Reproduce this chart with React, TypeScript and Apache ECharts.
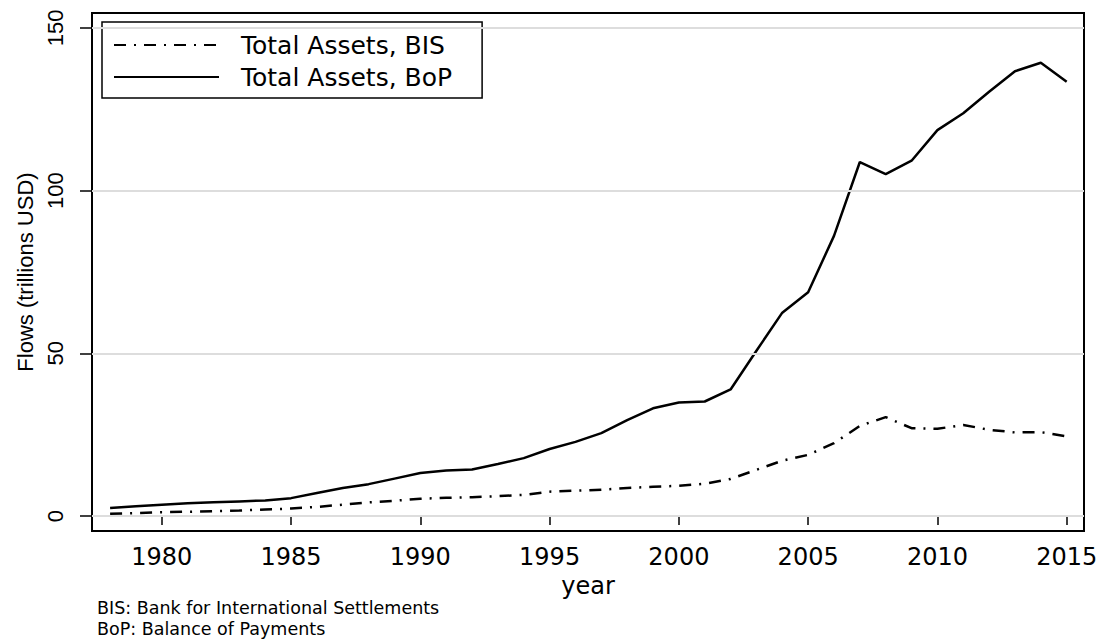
import React, { useEffect, useRef } from "react";
import * as echarts from "echarts";

const years: number[] = [
  1978, 1979, 1980, 1981, 1982, 1983, 1984, 1985, 1986, 1987, 1988, 1989,
  1990, 1991, 1992, 1993, 1994, 1995, 1996, 1997, 1998, 1999, 2000, 2001,
  2002, 2003, 2004, 2005, 2006, 2007, 2008, 2009, 2010, 2011, 2012, 2013,
  2014, 2015,
];

const bisAssets: number[] = [
  0.7, 0.9, 1.2, 1.3, 1.5, 1.7, 2.0, 2.3, 2.8, 3.5, 4.2, 4.7,
  5.3, 5.6, 5.8, 6.1, 6.5, 7.5, 7.8, 8.1, 8.6, 9.0, 9.3, 9.9,
  11.4, 14.2, 17.0, 18.8, 22.4, 27.7, 30.4, 27.0, 26.8, 28.0, 26.5, 25.7,
  25.8, 24.5,
];

const bopAssets: number[] = [
  2.5, 3.0, 3.5, 3.9, 4.2, 4.5, 4.8, 5.5, 7.1, 8.6, 9.8, 11.5,
  13.2, 14.0, 14.3, 16.0, 17.8, 20.6, 22.8, 25.5, 29.5, 33.1, 34.9, 35.2,
  38.9, 50.8, 62.5, 68.8, 86.1, 108.8, 105.1, 109.2, 118.6, 123.8, 130.4, 136.7,
  139.3, 133.5,
];

const xTicks: number[] = [1980, 1985, 1990, 1995, 2000, 2005, 2010, 2015];
const yTicks: number[] = [0, 50, 100, 150];

const seriesNames: string[] = ["Total Assets, BIS", "Total Assets, BoP"];
const notes: string[] = [
  "BIS: Bank for International Settlements",
  "BoP: Balance of Payments",
];

const H_FONT = "DejaVu Sans";
const V_FONT = "Liberation Sans";

export default function App() {
  const ref = useRef<HTMLDivElement>(null);

  useEffect(() => {
    if (!ref.current) return;
    const chart = echarts.init(ref.current, undefined, { renderer: "svg" });

    const option: any = {
      animation: false,
      backgroundColor: "#ffffff",
      grid: {
        left: 92,
        top: 13,
        right: 23,
        bottom: 110,
        show: true,
        borderColor: "#000000",
        borderWidth: 2,
        backgroundColor: "#ffffff",
      },
      legend: {
        left: 102,
        top: 22,
        orient: "vertical",
        borderColor: "#000000",
        borderWidth: 1.5,
        padding: [8, 30, 6, 11],
        itemWidth: 105,
        itemHeight: 14,
        itemGap: 2,
        selectedMode: false,
        itemStyle: { opacity: 0 },
        textStyle: {
          fontFamily: H_FONT,
          fontSize: 25,
          color: "#000000",
          lineHeight: 30,
          padding: [0, 0, 0, 17],
        },
        data: seriesNames,
      },
      xAxis: {
        type: "value",
        min: 1977.3,
        max: 2015.67,
        name: "year",
        nameLocation: "middle",
        nameGap: 38,
        nameTextStyle: { fontFamily: H_FONT, fontSize: 24, color: "#000000" },
        axisLine: { show: false },
        axisTick: {
          show: true,
          length: 9,
          customValues: xTicks,
          lineStyle: { color: "#000000", width: 1.5 },
        },
        axisLabel: {
          customValues: xTicks,
          fontFamily: H_FONT,
          fontSize: 24,
          color: "#000000",
          margin: 14,
          formatter: (v: number) => String(v),
        },
        splitLine: { show: false },
      },
      yAxis: {
        type: "value",
        min: -4.6,
        max: 154.6,
        name: "Flows (trillions USD)",
        nameLocation: "middle",
        nameRotate: 90,
        nameGap: 56,
        nameTextStyle: { fontFamily: V_FONT, fontSize: 22, color: "#000000" },
        axisLine: { show: false },
        axisTick: {
          show: true,
          length: 12,
          customValues: yTicks,
          lineStyle: { color: "#000000", width: 1.5 },
        },
        axisLabel: {
          customValues: yTicks,
          rotate: 90,
          fontFamily: V_FONT,
          fontSize: 22,
          color: "#000000",
          margin: 26,
        },
        splitLine: { show: false },
      },
      graphic: notes.map((t, i) => ({
        type: "text",
        left: 97,
        top: 599 + i * 21,
        style: {
          text: t,
          fontFamily: H_FONT,
          fontSize: 17.5,
          fill: "#000000",
        },
      })),
      series: [
        {
          name: "grid",
          type: "line",
          data: [],
          silent: true,
          markLine: {
            silent: true,
            symbol: "none",
            label: { show: false },
            lineStyle: { color: "#dddddd", width: 2, type: "solid" },
            data: yTicks.map((v) => ({ yAxis: v })),
          },
        },
        {
          name: seriesNames[0],
          type: "line",
          data: years.map((y, i) => [y, bisAssets[i]]),
          showSymbol: false,
          symbol: "none",
          lineStyle: { color: "#000000", width: 2.5, type: [12, 8, 2, 8] },
          itemStyle: { color: "#000000" },
        },
        {
          name: seriesNames[1],
          type: "line",
          data: years.map((y, i) => [y, bopAssets[i]]),
          showSymbol: false,
          symbol: "none",
          lineStyle: { color: "#000000", width: 2.5, type: "solid" },
          itemStyle: { color: "#000000" },
        },
      ],
    };

    chart.setOption(option);
    return () => chart.dispose();
  }, []);

  return (
    <div
      ref={ref}
      style={{ position: "fixed", left: 0, top: 0, width: 1107, height: 641 }}
    />
  );
}
